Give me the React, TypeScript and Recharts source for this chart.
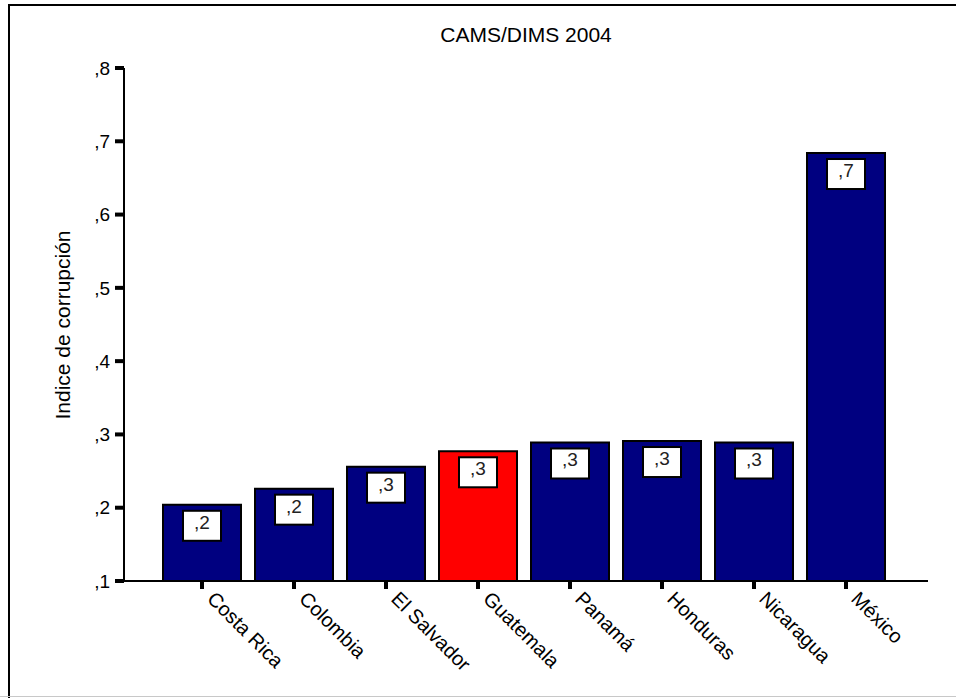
import React from 'react';
import { BarChart, Bar, XAxis, YAxis, Cell, LabelList } from 'recharts';

const countries = ['Costa Rica', 'Colombia', 'El Salvador', 'Guatemala', 'Panamá', 'Honduras', 'Nicaragua', 'México'];
const values = [0.204, 0.226, 0.256, 0.277, 0.289, 0.291, 0.289, 0.684];
const highlighted = ['Guatemala'];
const yTicks = [0.1, 0.2, 0.3, 0.4, 0.5, 0.6, 0.7, 0.8];

const FONT = '"Liberation Sans", Arial, sans-serif';
const NAVY = '#000080';
const RED = '#ff0000';

const data = countries.map((name, i) => ({ name, value: values[i] }));

// SPSS style: ",3" instead of "0.3"
const fmt = (v: number) => ',' + (Math.round(v * 10) % 10);

const XTick = (props: any) => {
  const { x, y, payload } = props;
  const tx = x + 4;
  const ty = y + 9;
  return (
    <text
      x={tx}
      y={ty}
      transform={`rotate(45 ${tx} ${ty})`}
      fontFamily={FONT}
      fontSize={20}
      fill="#000"
      textAnchor="start"
    >
      {payload.value}
    </text>
  );
};

const BoxLabel = (props: any) => {
  const { x, y, width, value } = props;
  const cx = x + width / 2;
  return (
    <g>
      <rect x={cx - 19} y={y + 6} width={38} height={30} fill="#fff" stroke="#000" strokeWidth={2} />
      <text x={cx} y={y + 24} textAnchor="middle" fontFamily={FONT} fontSize={19} fill="#222">
        {fmt(value)}
      </text>
    </g>
  );
};

export default function App() {
  return (
    <div style={{ position: 'absolute', left: 0, top: 0, width: 956, height: 698, background: '#fff', fontFamily: FONT }}>
      <div style={{ position: 'absolute', left: 8, top: 4, width: 948, height: 2, background: '#000' }} />
      <div style={{ position: 'absolute', left: 8, top: 4, width: 2, height: 694, background: '#000' }} />
      <div style={{ position: 'absolute', left: 0, top: 696, width: 956, height: 1, background: '#c8c8c8' }} />
      <div
        style={{
          position: 'absolute',
          left: 124,
          top: 23,
          width: 804,
          textAlign: 'center',
          fontSize: 21,
          color: '#000',
          zIndex: 1,
        }}
      >
        CAMS/DIMS 2004
      </div>
      <div style={{ position: 'absolute', left: 0, top: 0 }}>
        <BarChart width={956} height={698} data={data} margin={{ top: 68, right: 28, bottom: 87, left: 0 }}>
          <XAxis
            dataKey="name"
            padding={{ left: 32, right: 36 }}
            axisLine={{ stroke: '#000', strokeWidth: 2 }}
            tickLine={{ stroke: '#000', strokeWidth: 4 }}
            tickSize={8}
            tick={<XTick />}
            interval={0}
          />
          <YAxis
            width={124}
            domain={[0.1, 0.8]}
            ticks={yTicks}
            allowDataOverflow
            tickFormatter={fmt}
            axisLine={{ stroke: '#000', strokeWidth: 2 }}
            tickLine={{ stroke: '#000', strokeWidth: 4 }}
            tickSize={9}
            tickMargin={5}
            tick={{ fill: '#000', fontSize: 19, fontFamily: FONT }}
            label={{
              value: 'Indice de corrupción',
              content: () => (
                <text
                  x={0}
                  y={0}
                  transform="translate(70 325) rotate(-90)"
                  textAnchor="middle"
                  fontFamily={FONT}
                  fontSize={21}
                  fill="#000"
                >
                  Indice de corrupción
                </text>
              ),
            }}
          />
          <Bar dataKey="value" barSize={78} stroke="#000" strokeWidth={2} isAnimationActive={false}>
            {data.map((d) => (
              <Cell key={d.name} fill={highlighted.includes(d.name) ? RED : NAVY} />
            ))}
            <LabelList dataKey="value" content={<BoxLabel />} />
          </Bar>
        </BarChart>
      </div>
    </div>
  );
}
